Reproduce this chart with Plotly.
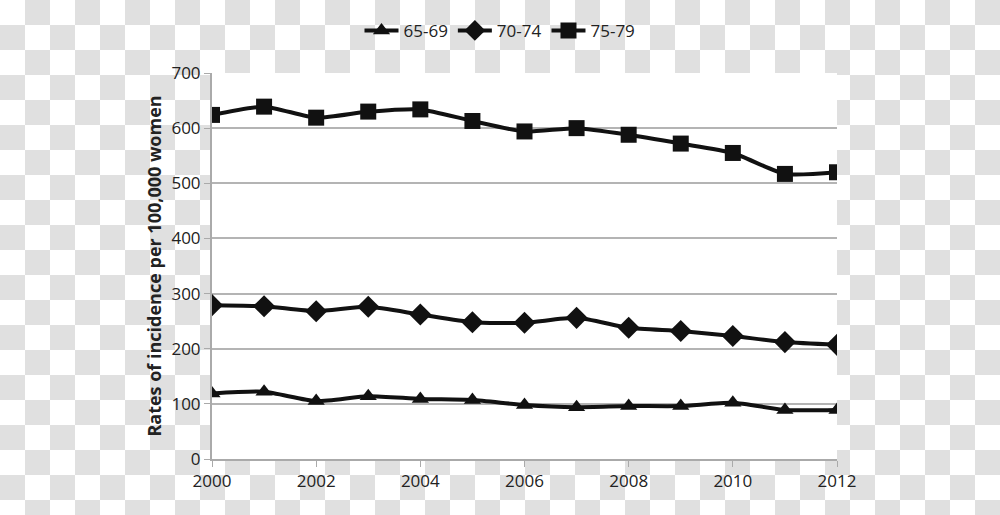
import plotly.graph_objects as go

years = list(range(2000, 2013))
s65_69 = [119, 122, 105, 114, 109, 107, 98, 94, 96, 96, 102, 89, 89]
s70_74 = [279, 277, 268, 276, 262, 248, 247, 256, 238, 232, 223, 212, 207]
s75_79 = [624, 639, 619, 630, 634, 613, 594, 600, 588, 572, 555, 517, 520]
series_names = ["65-69", "70-74", "75-79"]
y_ticks = [0, 100, 200, 300, 400, 500, 600, 700]
x_ticks = [2000, 2002, 2004, 2006, 2008, 2010, 2012]

W, H = 1000, 515
L, R, T, B = 212, 163, 73, 56
PW, PH = W - L - R, H - T - B

ink = "#111111"
fig = go.Figure()
for name, vals, sym, size in [
    (series_names[0], s65_69, "triangle-up", 15),
    (series_names[1], s70_74, "diamond", 17),
    (series_names[2], s75_79, "square", 16),
]:
    fig.add_trace(go.Scatter(
        x=years, y=vals, name=name, mode="lines+markers",
        line=dict(color=ink, width=4, shape="spline", smoothing=0.6),
        marker=dict(symbol=sym, size=size, color=ink),
    ))

# checkerboard backdrop
shapes = []
sq = 25
for j in range((H + sq - 1) // sq):
    for i in range(W // sq):
        if (i + j) % 2 == 1:
            x0, x1 = i * sq, (i + 1) * sq
            y0, y1 = j * sq, min((j + 1) * sq, H)
            shapes.append(dict(
                type="rect", xref="paper", yref="paper", layer="below",
                x0=(x0 - L) / PW, x1=(x1 - L) / PW,
                y0=(H - B - y1) / PH, y1=(H - B - y0) / PH,
                fillcolor="#e0e0e0", line=dict(width=0),
            ))
shapes.append(dict(type="rect", xref="x domain", yref="y domain", layer="below",
                   x0=0, x1=1, y0=0, y1=1, fillcolor="white", line=dict(width=0)))

fig.update_layout(
    width=W, height=H,
    margin=dict(l=L, r=R, t=T, b=B),
    paper_bgcolor="white", plot_bgcolor="white",
    font=dict(family="Open Sans", size=17, color="#222222"),
    shapes=shapes,
    showlegend=True,
    legend=dict(orientation="h", x=0.5, xanchor="center", xref="container",
                y=0.975, yanchor="top", yref="container",
                font=dict(size=17), bgcolor="rgba(0,0,0,0)", itemwidth=34),
    xaxis=dict(range=[2000, 2012], tickvals=x_ticks, showgrid=False,
               showline=True, linecolor="#aaaaaa", linewidth=2,
               ticks="outside", ticklen=6, tickcolor="#aaaaaa", zeroline=False),
    yaxis=dict(range=[0, 700], tickvals=y_ticks, showgrid=True, gridcolor="#b4b4b4",
               gridwidth=1.5, showline=True, linecolor="#aaaaaa", linewidth=2,
               ticks="outside", ticklen=6, tickcolor="#aaaaaa", zeroline=False,
               title=dict(text="<b>Rates of incidence per 100,000 women</b>",
                          font=dict(size=18), standoff=5)),
)

fig.write_html("out.html", config={"displayModeBar": False},
               post_script="document.body.style.margin='0';")
